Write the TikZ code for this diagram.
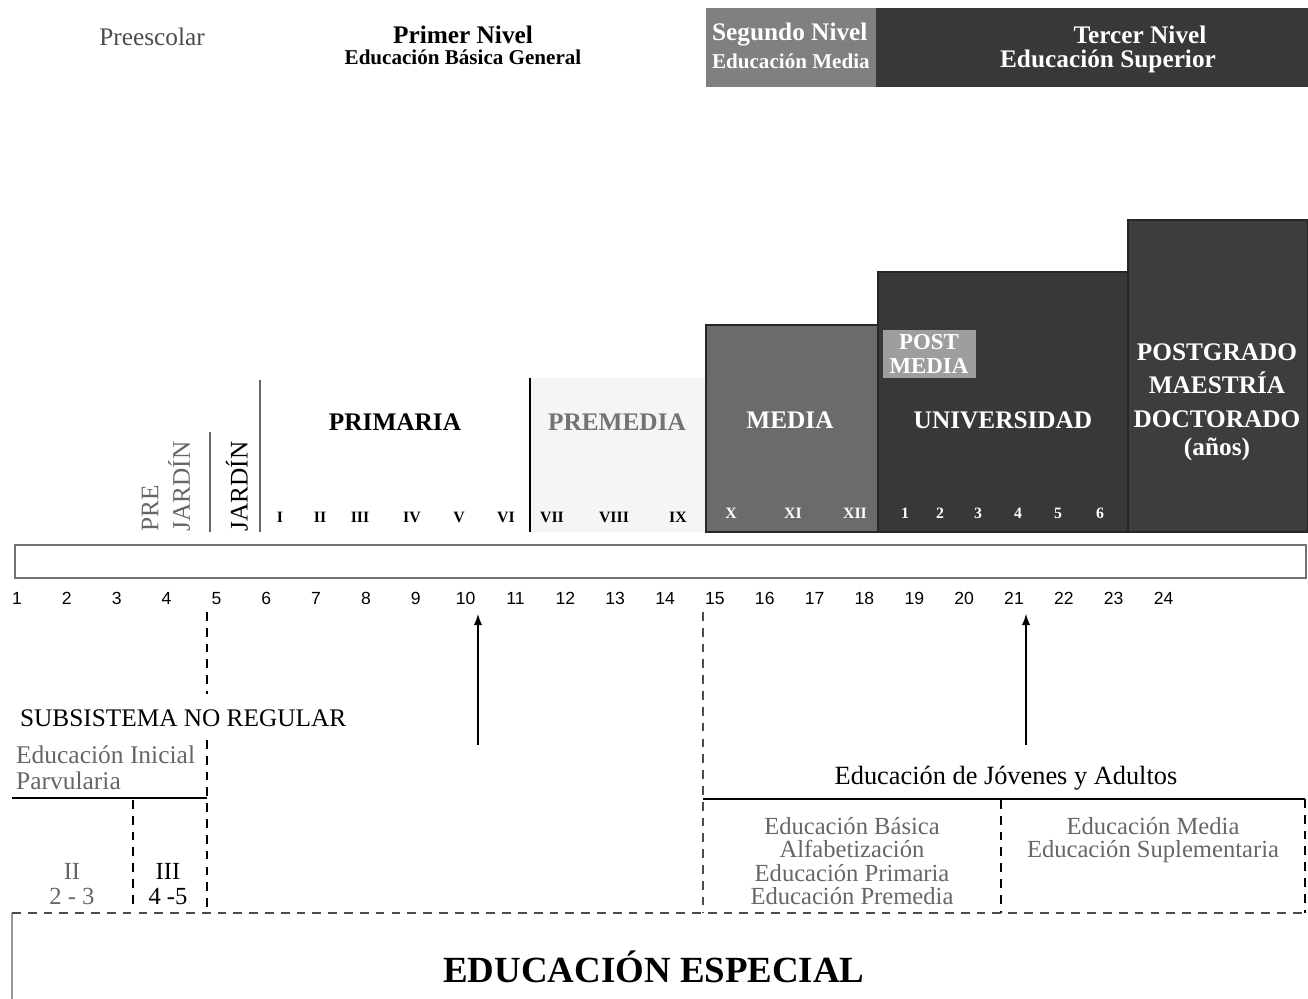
\documentclass[tikz,border=0pt]{standalone}
\usepackage{fontspec}
\setmainfont{Liberation Serif}
\setsansfont{Liberation Sans}
\usetikzlibrary{positioning}

\begin{document}
\begin{tikzpicture}[x=0.02cm,y=-0.02cm]
	\tikzstyle{every node}=[inner sep=1pt]
	\tikzstyle{darkbox}=[draw=black!85,line width=0.8pt]
	\tikzstyle{boxlabel}=[text=white,font=\bfseries\Large,align=center]
	\tikzstyle{grade}=[font=\bfseries\small]
	\tikzstyle{agenum}=[font=\sffamily,anchor=base]
	\tikzstyle{dashline}=[dashed,line width=0.6pt,dash pattern=on 5pt off 4pt]
	\tikzstyle{lightlabel}=[text=black!60,font=\fontsize{14}{13.4}\selectfont]

	\useasboundingbox (0,0) rectangle (1308,999);

	%% Niveles (top band)
	\node[text=black!70,font=\Large] (preesc) at (152,37) {Preescolar};
	\node[font=\bfseries\Large] (primer) at (463,35) {Primer Nivel};
	\node[font=\bfseries\large, below=1pt of primer] (primersub) {Educación Básica General};
	\fill[black!50] (706,8) rectangle (876,87);
	\fill[black!78] (876,8) rectangle (1308,87);
	\node[boxlabel,anchor=west] (segundo) at (710,35) {Segundo Nivel};
	\node[boxlabel,anchor=west,font=\bfseries\large] (segundosub) at (710,61) {Educación Media};
	\node[boxlabel] (tercer) at (1140,35) {Tercer Nivel};
	\node[boxlabel] (tercersub) at (1108,61) {Educación Superior};

	%% Subsistema regular
	\fill[black!4] (531,378) rectangle (705,532);
	\draw[black!60,line width=1pt] (210,432) -- (210,532);
	\draw[black!60,line width=1pt] (260,380) -- (260,532);
	\draw[black,line width=1pt] (530,378) -- (530,532);
	\node[rotate=90,anchor=west,align=left,text=black!60,font=\Large,inner sep=0pt] (prejardin) at (166,532) {PRE\\JARDÍN};
	\node[rotate=90,anchor=west,font=\Large,inner sep=0pt] (jardin) at (237,532) {JARDÍN};
	\node[font=\bfseries\Large] (primaria) at (395,422) {PRIMARIA};
	\node[font=\bfseries\Large,text=black!55] (premedia) at (617,422) {PREMEDIA};
	\foreach \r/\x in {I/280,II/320,III/360,IV/412,V/459,VI/506,VII/552,VIII/614,IX/678}
		\node[grade] (grado-\r) at (\x,517) {\r};

	\draw[darkbox,fill=black!58] (706,325) rectangle (878,532);
	\draw[darkbox,fill=black!78] (878,272) rectangle (1128,532);
	\draw[darkbox,fill=black!76] (1128,220) rectangle (1308,532);
	\node[boxlabel] (media) at (790,420) {MEDIA};
	\node[boxlabel] (universidad) at (1003,420) {UNIVERSIDAD};
	\node[boxlabel] (postgrado) at (1217,402) {POSTGRADO\\[1pt]MAESTRÍA\\[1pt]DOCTORADO\\[-2pt](años)};
	\fill[black!38] (883,330) rectangle (976,378);
	\node[boxlabel,font=\bfseries\fontsize{13}{14}\selectfont] (postmedia) at (929,354) {POST\\MEDIA};
	\foreach \r/\x in {X/731,XI/793,XII/855}
		\node[grade,text=white] (grado-\r) at (\x,513) {\r};
	\foreach \n/\x in {1/905,2/940,3/978,4/1018,5/1058,6/1100}
		\node[grade,text=white] (anio-\n) at (\x,513) {\n};

	%% Edades
	\draw[black!55,line width=1pt] (15,545) rectangle (1306,578);
	\foreach \n in {1,...,24}
		\node[agenum] (edad-\n) at ({17+49.85*(\n-1)},604) {\n};

	\coordinate (v5top) at (207,612);
	\coordinate (v5mid) at (207,694);
	\coordinate (v5low) at (207,740);
	\coordinate (v5bot) at (207,912);
	\coordinate (v15top) at (703,612);
	\coordinate (v15bot) at (703,913);
	\draw[dashline] (v5top) -- (v5mid);
	\draw[dashline] (v5low) -- (v5bot);
	\draw[dashline,black!70] (v15top) -- (v15bot);

	\coordinate (flecha1) at (478,745);
	\coordinate (punta1) at (478,614);
	\coordinate (flecha2) at (1026,745);
	\coordinate (punta2) at (1026,614);
	\draw[-latex,line width=1.2pt] (flecha1) -- (punta1);
	\draw[-latex,line width=1.2pt] (flecha2) -- (punta2);

	%% Subsistema no regular
	\node[anchor=west,font=\Large] (noregular) at (18,718) {SUBSISTEMA NO REGULAR};
	\node[lightlabel,anchor=west,align=left,font=\fontsize{14.5}{15}\selectfont] (inicial) at (14,768) {Educación Inicial\\Parvularia};
	\draw[line width=1pt] (12,798) -- (207,798);
	\draw[dashline] (133,800) -- (133,910);
	\node[lightlabel,align=center] (ciclo2) at (72,884) {II\\[1pt]2 - 3};
	\node[lightlabel,align=center,text=black] (ciclo3) at (168,884) {III\\[1pt]4 -5};

	\node[font=\fontsize{15}{17}\selectfont] (adultos) at (1006,778) {Educación de Jóvenes y Adultos};
	\draw[line width=1pt] (703,799) -- (1305,799);
	\draw[dashline] (1305,799) -- (1305,913);
	\draw[dashline] (1001,800) -- (1001,913);
	\node[lightlabel,align=center] (basica) at (852,861) {Educación Básica\\Alfabetización\\Educación Primaria\\Educación Premedia};
	\node[lightlabel,align=center] (mediaad) at (1153,840) {Educación Media\\Educación Suplementaria};

	%% Educacion especial
	\draw[black!40,line width=0.6pt] (12,999) -- (12,913);
	\draw[dashline,black!70] (12,913) -- (1308,913);
	\node[font=\bfseries\fontsize{21}{24}\selectfont] (especial) at (654,967) {EDUCACIÓN ESPECIAL};
\end{tikzpicture}
\end{document}
